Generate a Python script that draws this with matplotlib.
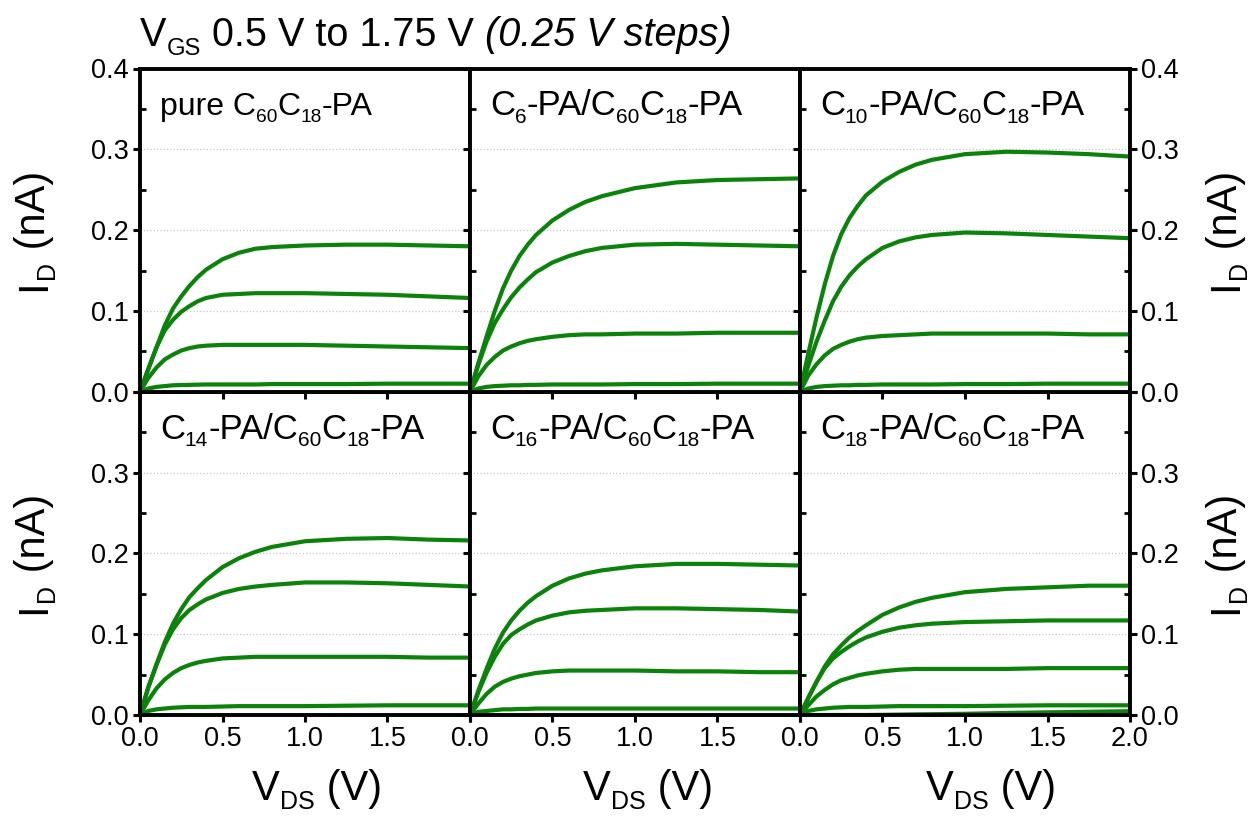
import math
import matplotlib
matplotlib.use("Agg")
import matplotlib.pyplot as plt
from matplotlib.ticker import MultipleLocator
from matplotlib.transforms import IdentityTransform

plt.rcParams['font.family'] = ['Liberation Sans', 'DejaVu Sans']

# drain voltage grid (V)
vds = [0, 0.05, 0.1, 0.15, 0.2, 0.25, 0.3, 0.35, 0.4, 0.5, 0.6, 0.7, 0.8, 1.0, 1.25, 1.5, 1.75, 2.0]

# drain current (nA), one list per visible VGS step, highest first
pure_c60 = [
    [0, .028, .055, .082, .103, .118, .131, .142, .151, .164, .172, .177, .179, .181, .182, .182, .181, .180],
    [0, .028, .055, .076, .089, .099, .106, .112, .116, .120, .121, .122, .122, .122, .121, .120, .118, .116],
    [0, .017, .030, .040, .046, .051, .054, .056, .057, .058, .058, .058, .058, .058, .057, .056, .055, .054],
    [0, .004, .006, .007, .008, .0083, .0085, .0088, .009, .009, .009, .009, .0095, .0095, .0095, .010, .010, .010],
]
c6_pa = [
    [0, .035, .068, .100, .128, .150, .168, .182, .194, .212, .225, .235, .242, .252, .259, .262, .263, .264],
    [0, .033, .062, .085, .102, .117, .129, .139, .148, .160, .168, .174, .178, .182, .183, .182, .181, .180],
    [0, .019, .033, .043, .051, .056, .060, .063, .065, .068, .070, .071, .071, .072, .072, .073, .073, .073],
    [0, .004, .006, .007, .0075, .008, .008, .0085, .0085, .009, .009, .009, .009, .0095, .0095, .010, .010, .010],
]
c10_pa = [
    [0, .047, .092, .133, .168, .195, .215, .230, .243, .260, .272, .281, .287, .294, .297, .296, .294, .291],
    [0, .032, .062, .088, .112, .130, .144, .155, .164, .178, .186, .191, .194, .197, .196, .194, .192, .190],
    [0, .020, .034, .045, .053, .058, .062, .065, .067, .069, .070, .071, .072, .072, .072, .072, .071, .071],
    [0, .004, .006, .007, .0075, .008, .008, .0085, .0085, .009, .009, .009, .009, .0095, .0095, .010, .010, .010],
]
c14_pa = [
    [0, .034, .063, .090, .113, .131, .146, .157, .167, .183, .194, .202, .208, .215, .218, .219, .217, .216],
    [0, .034, .062, .087, .106, .120, .130, .137, .143, .151, .156, .159, .161, .164, .164, .163, .161, .159],
    [0, .018, .033, .044, .052, .058, .062, .065, .067, .070, .071, .072, .072, .072, .072, .072, .071, .071],
    [0, .005, .007, .008, .009, .0095, .010, .010, .010, .0105, .011, .011, .011, .011, .0115, .012, .012, .012],
]
c16_pa = [
    [0, .030, .057, .082, .102, .117, .129, .139, .147, .160, .169, .175, .179, .184, .187, .187, .186, .185],
    [0, .028, .052, .072, .088, .099, .106, .112, .117, .123, .127, .129, .130, .132, .132, .131, .130, .128],
    [0, .014, .026, .035, .041, .045, .048, .050, .052, .054, .055, .055, .055, .055, .054, .054, .053, .053],
    [0, .004, .005, .006, .007, .007, .0075, .0075, .008, .008, .008, .008, .008, .008, .008, .008, .008, .008],
]
c18_pa = [
    [0, .021, .041, .060, .075, .086, .096, .104, .111, .124, .133, .140, .145, .152, .156, .158, .160, .160],
    [0, .021, .041, .058, .070, .078, .085, .091, .096, .103, .108, .111, .113, .115, .116, .117, .117, .117],
    [0, .012, .023, .031, .038, .043, .046, .049, .051, .054, .056, .057, .057, .057, .057, .058, .058, .058],
    [0, .005, .007, .008, .009, .0095, .010, .010, .010, .0105, .011, .011, .011, .011, .0115, .012, .012, .012],
    [0, 0, 0, 0, 0, 0, 0, 0, 0, .0002, .0005, .0008, .001, .0015, .0025, .0033, .004, .0047],
]

panels = [pure_c60, c6_pa, c10_pa, c14_pa, c16_pa, c18_pa]
# label pieces: (text, kind) with kind n = normal, s = subscript, i = italic
panel_labels = [
    [('pure C', 'n'), ('60', 's'), ('C', 'n'), ('18', 's'), ('-PA', 'n')],
    [('C', 'n'), ('6', 's'), ('-PA/C', 'n'), ('60', 's'), ('C', 'n'), ('18', 's'), ('-PA', 'n')],
    [('C', 'n'), ('10', 's'), ('-PA/C', 'n'), ('60', 's'), ('C', 'n'), ('18', 's'), ('-PA', 'n')],
    [('C', 'n'), ('14', 's'), ('-PA/C', 'n'), ('60', 's'), ('C', 'n'), ('18', 's'), ('-PA', 'n')],
    [('C', 'n'), ('16', 's'), ('-PA/C', 'n'), ('60', 's'), ('C', 'n'), ('18', 's'), ('-PA', 'n')],
    [('C', 'n'), ('18', 's'), ('-PA/C', 'n'), ('60', 's'), ('C', 'n'), ('18', 's'), ('-PA', 'n')],
]
label_sizes = [23, 25, 25, 25, 25, 25]
title_pieces = [('V', 'n'), ('GS', 's'), (' 0.5 V to 1.75 V ', 'n'), ('(0.25 V steps)', 'i')]
xlabel_pieces = [('V', 'n'), ('DS', 's'), (' (V)', 'n')]
ylabel_pieces = [('I', 'n'), ('D', 's'), (' (nA)', 'n')]

x_ticks = [0, 0.5, 1.0, 1.5, 2.0]
y_ticks = [0, 0.1, 0.2, 0.3, 0.4]

W, H = 1251, 816
fig, axes = plt.subplots(2, 3, figsize=(12.51, 8.16), dpi=100)
fig.subplots_adjust(left=140 / W, right=1130 / W, top=1 - 68.5 / H, bottom=1 - 715 / H,
                    wspace=0, hspace=0)
renderer = fig.canvas.get_renderer()


def advance(s, size, style):
    # pen advance of s, measured between two bars so spaces count
    t1 = fig.text(0, 0, '|' + s + '|', fontsize=size, fontstyle=style)
    t2 = fig.text(0, 0, '||', fontsize=size, fontstyle=style)
    w = t1.get_window_extent(renderer).width - t2.get_window_extent(renderer).width
    t1.remove()
    t2.remove()
    return w


def rich_text(x, y, pieces, size, rot=0, align='left'):
    # x, y in pixels from bottom-left, baseline start (or centre)
    c, s = math.cos(math.radians(rot)), math.sin(math.radians(rot))
    px = size * 100 / 72
    items, pos = [], 0
    for txt, kind in pieces:
        fs = size * 0.6 if kind == 's' else size
        style = 'italic' if kind == 'i' else 'normal'
        dy = -0.22 * px if kind == 's' else 0
        items.append((txt, fs, style, pos, dy))
        pos += advance(txt, fs, style)
    start = -pos / 2 if align == 'center' else 0
    for txt, fs, style, off, dy in items:
        a = start + off
        fig.text(x + a * c - dy * s, y + a * s + dy * c, txt, fontsize=fs,
                 fontstyle=style, rotation=rot, rotation_mode='anchor',
                 ha='left', va='baseline', transform=IdentityTransform())


for i, ax in enumerate(axes.flat):
    row, col = divmod(i, 3)
    for curve in panels[i]:
        ax.plot(vds, curve, color='#0b830b', lw=3.0)

    ax.set_xlim(0, 2.0)
    ax.set_ylim(0, 0.4)
    for sp in ax.spines.values():
        sp.set_linewidth(2.8)
    ax.set_zorder(3 - row)

    ax.set_xticks(x_ticks)
    if row == 1:
        ax.set_xticklabels(['0.0', '0.5', '1.0', '1.5', '2.0' if col == 2 else ''])
    else:
        ax.set_xticklabels([])
    ax.set_yticks(y_ticks)
    ax.yaxis.set_minor_locator(MultipleLocator(0.05))
    ax.set_yticklabels(['0.0', '0.1', '0.2', '0.3', '0.4' if row == 0 else ''])

    ax.tick_params(axis='both', which='major', direction='out', length=5,
                   width=2.2, labelsize=19.5, pad=3)
    ax.tick_params(axis='y', which='minor', direction='in', length=4, width=2)
    if col == 0:
        ax.tick_params(axis='y', which='both', left=True, right=False,
                       labelleft=True, labelright=False)
    elif col == 1:
        ax.tick_params(axis='y', which='both', left=True, right=False,
                       labelleft=False, labelright=False)
    else:
        ax.tick_params(axis='y', which='both', left=True, right=True,
                       labelleft=False, labelright=True)

    ax.grid(axis='y', which='major', linestyle=':', color='#c8c8c8', lw=0.9)
    ax.set_axisbelow(True)

    lx, ly = ax.transAxes.transform((0.06, 0.855))
    rich_text(lx, ly, panel_labels[i], label_sizes[i])

# axis titles
for cx in [317, 648, 991]:
    rich_text(cx, H - 800, xlabel_pieces, 30, align='center')
for cy in [231, 554]:
    rich_text(45, H - cy, ylabel_pieces, 30, rot=90, align='center')
    rich_text(1237, H - cy, ylabel_pieces, 30, rot=90, align='center')

rich_text(140, H - 46, title_pieces, 28.5)

fig.savefig('out.png', dpi=100)
